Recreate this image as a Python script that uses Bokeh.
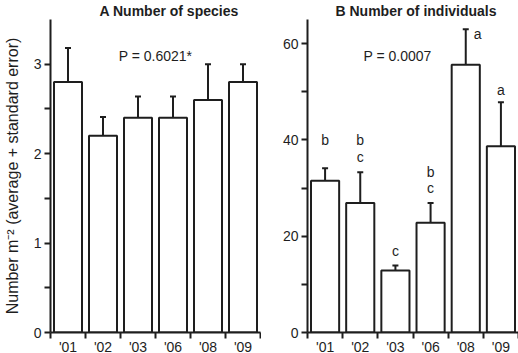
from bokeh.plotting import figure
from bokeh.layouts import row
from bokeh.models import Range1d, FixedTicker, Whisker, TeeHead, ColumnDataSource, Label
from bokeh.embed import file_html
from bokeh.resources import INLINE
from bokeh.core.properties import value

years = ["'01", "'02", "'03", "'06", "'08", "'09"]
species_mean = [2.8, 2.2, 2.4, 2.4, 2.6, 2.8]
species_se = [0.38, 0.21, 0.24, 0.24, 0.40, 0.20]
indiv_mean = [31.5, 26.9, 12.9, 22.8, 55.6, 38.7]
indiv_se = [2.6, 6.4, 1.0, 4.1, 7.4, 9.1]
sig_letters = ["b", "bc", "c", "bc", "a", "a"]
sig_y = [40, 36.5, 17, 30, 62, 50.3]
sig_dx = [0, 0, 0, 0, 0.34, 0]

FONT = "Liberation Sans"
INK = "#1e1e1e"

def make_panel(title, means, ses, ymax, yticks, yminor, ptext, pxy, fwidth, left, ylabel=None, title_offset=0):
    x = [i + 0.5 for i in range(len(years))]
    src = ColumnDataSource(dict(x=x, top=means, upper=[m + s for m, s in zip(means, ses)]))
    p = figure(frame_width=fwidth, frame_height=313, x_range=Range1d(0, 6), y_range=Range1d(0, ymax),
               output_backend="svg", toolbar_location=None,
               min_border_left=left, min_border_right=1, min_border_top=0, min_border_bottom=0)
    p.title.text = title
    p.title.align = "left"
    p.title.text_font = FONT
    p.title.text_font_size = "14px"
    p.title.text_font_style = "bold"
    p.title.text_color = INK
    p.title.offset = title_offset
    p.title.standoff = 1
    p.grid.visible = False
    p.outline_line_color = None
    p.background_fill_color = "white"
    p.border_fill_color = "white"

    p.vbar(x="x", top="top", bottom=0, width=0.8, source=src,
           fill_color="white", line_color=INK, line_width=2)
    w = Whisker(base="x", lower="top", upper="upper", source=src,
                line_color=INK, line_width=2,
                upper_head=TeeHead(size=6, line_color=INK, line_width=2), lower_head=None)
    p.add_layout(w)

    xa = p.xaxis[0]
    xa.ticker = FixedTicker(ticks=x, minor_ticks=list(range(7)))
    xa.major_label_overrides = {xi: y for xi, y in zip(x, years)}
    xa.major_tick_out = 0
    xa.major_tick_in = 0
    xa.minor_tick_out = 6
    xa.minor_tick_in = 0
    xa.minor_tick_line_width = 2
    xa.minor_tick_line_color = INK
    xa.axis_line_width = 2
    xa.axis_line_color = INK
    xa.major_label_text_font = FONT
    xa.major_label_text_font_size = "14px"
    xa.major_label_text_color = INK
    xa.major_label_standoff = 0

    ya = p.yaxis[0]
    ya.ticker = FixedTicker(ticks=yticks, minor_ticks=yminor)
    ya.major_tick_out = 6
    ya.major_tick_in = 0
    ya.minor_tick_out = 6
    ya.minor_tick_in = 0
    ya.major_tick_line_width = 2
    ya.minor_tick_line_width = 2
    ya.major_tick_line_color = INK
    ya.minor_tick_line_color = INK
    ya.axis_line_width = 2
    ya.axis_line_color = INK
    ya.major_label_text_font = FONT
    ya.major_label_text_font_size = "14px"
    ya.major_label_text_color = INK
    ya.major_label_standoff = 3
    if ylabel:
        ya.axis_label = ylabel
        ya.axis_label_text_font = FONT
        ya.axis_label_text_font_size = "16px"
        ya.axis_label_text_font_style = "normal"
        ya.axis_label_text_color = INK
        ya.axis_label_standoff = 10

    p.add_layout(Label(x=pxy[0], y=pxy[1], text=ptext, text_font=FONT, text_font_size="14px",
                       text_color=INK, text_align="center", text_baseline="middle"))
    return p, x

p1, _ = make_panel("A Number of species", species_mean, species_se, 3.5,
                   [0, 1, 2, 3], [0.5, 1.5, 2.5], "P = 0.6021*", (3.0, 3.09),
                   210, 48, ylabel="Number m\u207b\u00b2 (average + standard error)", title_offset=49)
p2, xs = make_panel("B Number of individuals", indiv_mean, indiv_se, 65,
                    [0, 20, 40, 60], [10, 30, 50], "P = 0.0007", (2.56, 57.5),
                    211, 46, title_offset=28)

lx, ly, lt = [], [], []
for i, (letters, y0, dx) in enumerate(zip(sig_letters, sig_y, sig_dx)):
    for k, ch in enumerate(reversed(letters)):
        lx.append(xs[i] + dx)
        ly.append(y0 + 3.4 * k)
        lt.append(ch)
p2.text(x=lx, y=ly, text=lt, text_font=value(FONT), text_font_size="14px",
        text_color=INK, text_align="center", text_baseline="middle")

layout = row(p1, p2)
open("out.html", "w").write(file_html(layout, INLINE))
